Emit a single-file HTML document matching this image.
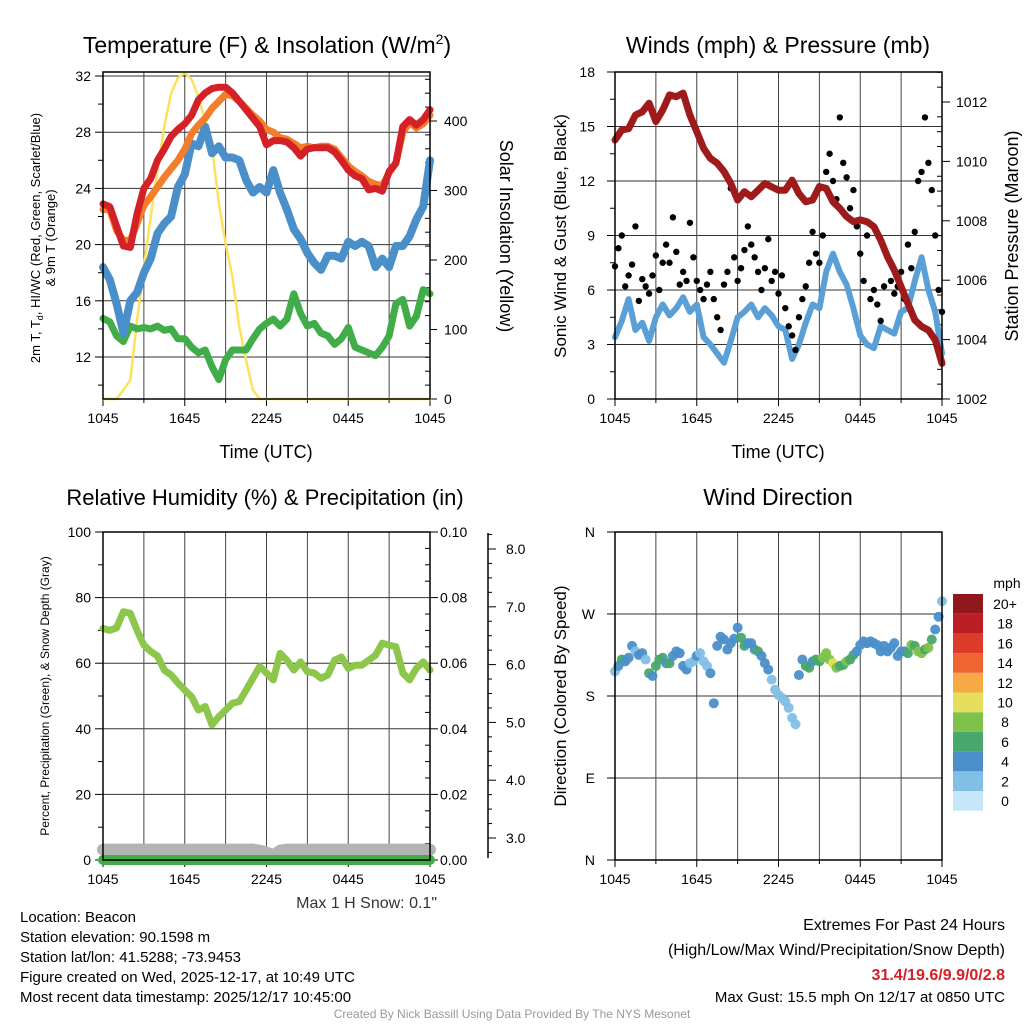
<!DOCTYPE html>
<html><head><meta charset="utf-8">
<style>
html,body{margin:0;padding:0;background:#fff;}
svg{display:block;font-family:"Liberation Sans",Arial,sans-serif;}
</style></head>
<body>
<svg id="c" width="1024" height="1024" viewBox="0 0 1024 1024" xmlns="http://www.w3.org/2000/svg">
<g id="p1"></g>
<g id="p2"></g>
<g id="p3"></g>
<g id="p4"></g>
<g id="txt" font-size="15" fill="#000">
<text x="20" y="922">Location: Beacon</text>
<text x="20" y="942">Station elevation: 90.1598 m</text>
<text x="20" y="962">Station lat/lon: 41.5288; -73.9453</text>
<text x="20" y="982">Figure created on Wed, 2025-12-17, at 10:49 UTC</text>
<text x="20" y="1002">Most recent data timestamp: 2025/12/17 10:45:00</text>
<text x="437" y="908" text-anchor="end" fill="#333" font-size="16">Max 1 H Snow: 0.1"</text>
<text x="1005" y="930" text-anchor="end" font-size="16">Extremes For Past 24 Hours</text>
<text x="1005" y="955" text-anchor="end" font-size="16">(High/Low/Max Wind/Precipitation/Snow Depth)</text>
<text x="1005" y="980" text-anchor="end" font-size="16" font-weight="bold" fill="#d42027">31.4/19.6/9.9/0/2.8</text>
<text x="1005" y="1002" text-anchor="end" font-size="15">Max Gust: 15.5 mph On 12/17 at 0850 UTC</text>
<text x="512" y="1018" text-anchor="middle" font-size="12" fill="#999">Created By Nick Bassill Using Data Provided By The NYS Mesonet</text>
</g>
</svg>
<script>
// ---------- data (half-hourly, 0..24 h from 1045 UTC) ----------
const hourLabels=["1045","1645","2245","0445","1045"];
const tempTicks=[12,16,20,24,28,32];
const insolTicks=[0,100,200,300,400];
const windTicks=[0,3,6,9,12,15,18];
const presTicks=[1002,1004,1006,1008,1010,1012];
const rhTicks=[0,20,40,60,80,100];
const precipTicks=["0.00","0.02","0.04","0.06","0.08","0.10"];
const snowTicks=[3.0,4.0,5.0,6.0,7.0,8.0];
const dirTicks=["N","E","S","W","N"];
const t2m=[22.9,22.7,21.3,19.9,19.8,22.2,24.0,24.7,26.0,26.8,27.7,28.2,28.6,29.2,30.3,30.8,31.1,31.2,31.2,30.8,30.2,29.6,29.0,28.4,27.1,27.4,27.4,27.3,26.9,26.3,26.8,26.9,26.9,26.9,26.6,26.0,25.3,24.9,24.7,23.9,24.0,23.8,25.2,25.8,28.4,28.9,28.5,28.9,29.6];
const t9m=[22.5,22.5,21.0,20.3,20.3,21.5,22.8,23.4,24.1,24.8,25.4,26.0,26.8,27.9,28.5,29.0,29.7,30.2,30.7,30.6,30.2,29.7,29.2,28.8,28.2,28.0,27.6,27.5,27.2,26.9,27.0,26.9,27.0,27.0,26.8,26.2,25.6,25.2,24.9,24.5,24.3,24.2,25.1,25.8,28.0,28.7,28.3,28.6,29.2];
const hiwc=[18.4,17.5,15.8,13.7,16.0,16.6,18.0,19.0,20.8,21.5,22.0,24.1,25.0,27.2,27.0,28.4,26.5,27.0,26.2,26.2,26.0,24.6,23.7,24.1,23.7,25.3,23.7,22.5,21.1,20.4,19.4,18.7,18.2,19.2,19.2,19.0,20.2,19.9,20.2,19.9,18.4,19.0,18.4,19.9,19.9,20.6,21.8,22.7,26.0];
const dewpt=[14.75,14.5,13.5,13.1,14.2,14.0,14.1,14.0,14.2,13.9,14.0,13.3,13.3,12.7,12.3,12.5,11.3,10.4,11.8,12.5,12.5,12.5,13.3,14.0,14.4,14.7,14.2,14.7,16.5,15.1,14.2,14.4,13.7,13.5,12.9,13.3,14.1,12.7,12.5,12.3,12.1,12.7,13.5,15.8,16.1,14.2,14.9,16.8,16.5];
const insol=[0,0,0,13,27,114,190,262,330,392,440,462,469,460,435,401,363,282,224,176,104,56,13,0,0,0,0,0,0,0,0,0,0,0,0,0,0,0,0,0,0,0,0,0,0,0,0,0,0];
const pres=[1010.72,1011.06,1011.1,1011.56,1011.67,1011.96,1011.34,1011.73,1012.24,1012.18,1012.3,1011.56,1011.0,1010.44,1010.1,1009.94,1009.66,1009.26,1008.7,1008.98,1008.81,1009.03,1009.26,1009.14,1009.03,1009.03,1009.37,1008.92,1008.64,1008.7,1009.15,1009.09,1008.64,1008.42,1008.14,1007.97,1008.03,1007.97,1007.8,1007.35,1006.79,1006.34,1005.78,1005.22,1004.66,1004.44,1004.32,1003.99,1003.2];
const wind=[3.4,4.3,5.5,3.8,4.2,3.2,4.5,5.2,4.6,5.0,5.6,4.8,5.2,3.4,3.0,2.5,2.0,3.2,4.5,4.8,5.2,4.5,5.0,4.6,4.0,3.8,2.2,3.0,4.2,5.2,5.0,7.0,8.0,7.0,6.3,5.0,3.5,3.0,2.8,4.0,3.8,3.6,4.8,5.0,6.5,7.8,6.0,4.8,2.5];
const rh=[70.6,70.0,70.8,75.7,75.2,70.0,65.5,63.6,62.2,57.9,56.4,54.0,51.8,49.8,45.7,46.8,41.2,43.7,45.7,47.8,48.3,51.8,55.4,59.0,57.0,54.9,63.0,60.9,57.9,60.4,57.4,57.0,55.4,56.4,60.9,61.9,58.4,59.4,59.4,60.9,62.4,66.1,65.5,65.0,57.0,54.9,58.4,60.4,57.9];
const precip=[0,0,0,0,0,0,0,0,0,0,0,0,0,0,0,0,0,0,0,0,0,0,0,0,0,0,0,0,0,0,0,0,0,0,0,0,0,0,0,0,0,0,0,0,0,0,0,0,0];
const snow=[2.8,2.8,2.8,2.8,2.8,2.8,2.8,2.8,2.8,2.8,2.8,2.8,2.8,2.8,2.8,2.8,2.8,2.8,2.8,2.8,2.8,2.8,2.8,2.78,2.75,2.7,2.78,2.8,2.8,2.8,2.8,2.8,2.8,2.8,2.8,2.8,2.8,2.8,2.8,2.8,2.8,2.8,2.8,2.8,2.8,2.8,2.8,2.8,2.8];
// quarter-hourly
const gust=[7.3,8.3,9.0,6.2,6.8,7.4,9.5,5.4,6.6,6.2,5.8,6.8,7.9,6.0,7.5,8.5,7.5,10.0,8.1,6.3,7.0,6.5,9.7,7.8,6.5,6.0,5.5,6.3,7.0,5.5,4.5,3.8,6.3,7.0,11.6,7.8,6.5,7.2,8.2,9.5,8.5,7.8,7.0,6.0,7.2,8.8,6.5,7.0,5.8,6.8,5.0,4.0,3.5,2.7,4.5,5.5,6.2,7.5,9.2,8.0,7.5,9.0,12.5,13.5,12.0,11.0,15.5,13.0,12.2,10.5,11.5,9.5,8.0,6.5,9.0,5.5,6.0,5.2,4.3,6.2,7.8,6.5,5.8,6.2,7.0,5.5,8.5,7.2,9.2,12.0,12.5,15.5,13.0,11.5,9.0,6.0,4.8];
const wdir=[207,213,220,218,222,235,229,225,227,220,205,202,213,220,222,216,216,224,229,227,213,209,216,218,224,227,218,213,205,172,235,245,242,231,238,243,255,244,235,238,238,231,229,224,216,209,198,187,181,178,174,167,156,149,203,220,213,211,218,220,218,222,227,220,216,211,213,214,218,220,225,229,236,240,238,240,238,236,229,235,229,233,238,224,229,229,227,236,235,229,227,231,233,242,253,267,284];
const wspd=[3.5,4.5,6.5,4.5,4.5,4.5,3.5,4.5,4.5,3.5,6.5,4.5,6.5,6.5,6.5,4.5,6.5,4.5,4.5,4.5,4.5,4.5,3.5,3.5,4.5,3.5,3.5,3.5,4.5,4.5,4.5,4.5,4.5,4.5,4.5,4.5,4.5,6.5,6.5,4.5,4.5,4.5,6.5,4.5,4.5,4.5,3.5,3.5,3.5,3.5,3.5,3.5,3.5,3.5,4.5,4.5,6.5,6.5,4.5,6.5,6.5,8.5,8.5,8.5,10.5,8.5,6.5,6.5,8.5,6.5,6.5,4.5,4.5,4.5,4.5,4.5,4.5,4.5,4.5,4.5,4.5,4.5,4.5,4.5,4.5,4.5,6.5,8.5,6.5,8.5,8.5,6.5,8.5,6.5,4.5,4.5,3.5];
const cbLabels=["0","2","4","6","8","10","12","14","16","18","20+"];
const cbColors=["#c6e6fa","#82bfe7","#4a8fc9","#48a86c","#7fc24a","#e5de5c","#f6a945","#ef6532","#dd3b2b","#bb1e24","#8f181c"];
// ---------- helpers ----------
const NS="http://www.w3.org/2000/svg";
function mk(parent,tag,attrs,text){const e=document.createElementNS(NS,tag);for(const k in attrs)e.setAttribute(k,attrs[k]);if(text!==undefined)e.textContent=text;parent.appendChild(e);return e;}
function xs(L,R){return h=>L+(R-L)*h/24;}
function lin(v0,v1,p0,p1){return v=>p0+(v-v0)*(p1-p0)/(v1-v0);}
function series(g,arr,step,X,Y,color,w,name){
  const d=arr.map((v,i)=>(i?"L":"M")+X(i*step).toFixed(1)+","+Y(v).toFixed(1)).join("");
  const p=mk(g,"path",{d:d,fill:"none",stroke:color,"stroke-width":w,"stroke-linejoin":"round","stroke-linecap":"round"});
  
  
  return p;
}
function frame(g,L,T,R,B){
  const f=mk(g,"rect",{x:L,y:T,width:R-L,height:B-T,fill:"none",stroke:"#000","stroke-width":1.5});
  
  
}
function vgrid(g,L,R,T,B){
  const X=xs(L,R);
  for(let h=3;h<24;h+=3){
    const l=mk(g,"line",{x1:X(h),x2:X(h),y1:T,y2:B,stroke:"#444","stroke-width":1});
    
    
  }
  for(let h=0;h<=24;h+=3){
    const t=mk(g,"line",{x1:X(h),x2:X(h),y1:B,y2:B+(h%6==0?7:4),stroke:"#000","stroke-width":1});
    
    
  }
  hourLabels.forEach((s,i)=>{
    const t=mk(g,"text",{x:X(i*6),y:B+24,"text-anchor":"middle","font-size":14},s);
    
    
  });
}
function hline(g,L,R,y,name){const l=mk(g,"line",{x1:L,x2:R,y1:y,y2:y,stroke:"#333","stroke-width":1});}
function tick(g,x1,x2,y){const l=mk(g,"line",{x1:x1,x2:x2,y1:y,y2:y,stroke:"#000","stroke-width":1});}
function label(g,x,y,s,anchor,size,name,rot,fill){
  const a={x:x,y:y,"text-anchor":anchor,"font-size":size};
  if(rot!==undefined)a.transform="rotate("+rot+" "+x+" "+y+")";
  if(fill)a.fill=fill;
  const t=mk(g,"text",a,s);
  
  
  return t;
}
// ---------- panel 1 ----------
(function(){
  const g=document.getElementById("p1"),L=103,R=430,T=72,B=399;
  const X=xs(L,R),Y=lin(12,32,357,76),Yi=lin(0,400,399,121);
  for(let v=10;v<=32;v+=2){const y=Y(v);if(y<T||y>B)continue;tick(g,L-(v%4==0?8:5),L,y);}
  tempTicks.forEach(v=>{hline(g,L,R,Y(v),"temp-gridline");label(g,L-12,Y(v)+5,String(v),"end",14,"temp-tick-label");});
  for(let v=0;v<=460;v+=20){const y=Yi(v);if(y<T)continue;tick(g,R-(v%100==0?0:5),R+(v%100==0?7:0),y);}
  insolTicks.forEach(v=>label(g,R+14,Yi(v)+5,String(v),"start",14,"insolation-tick-label"));
  vgrid(g,L,R,T,B);
  series(g,insol,0.5,X,Yi,"#fde15c",2.5,"insolation-line");
  series(g,dewpt,0.5,X,Y,"#41ad49",7,"dewpoint-line");
  series(g,hiwc,0.5,X,Y,"#4a8fc9",8,"hi-wc-line");
  series(g,t9m,0.5,X,Y,"#f47d2b",7,"temp-9m-line");
  series(g,t2m,0.5,X,Y,"#d42027",7,"temp-2m-line");
  frame(g,L,T,R,B);
  const tt=label(g,267,53,"Temperature (F) & Insolation (W/m","middle",23,"temperature-title");
  mk(tt,"tspan",{dy:-9,"font-size":14},"2");mk(tt,"tspan",{dy:9},")");
  label(g,266,458,"Time (UTC)","middle",18,"temp-x-axis-title");
  label(g,500,236,"Solar Insolation (Yellow)","middle",18,"insolation-axis-title",90);
  const yl=label(g,40,238,"2m T, T","middle",13,"temp-y-axis-title",-90);
  mk(yl,"tspan",{dy:3,"font-size":9},"d");mk(yl,"tspan",{dy:-3},", HI/WC (Red, Green, Scarlet/Blue)");
  label(g,55,238,"& 9m T (Orange)","middle",13,"temp-y-axis-title-2",-90);
})();
// ---------- panel 2 ----------
(function(){
  const g=document.getElementById("p2"),L=615,R=942,T=72,B=399;
  const X=xs(L,R),Y=lin(0,18,399,72),Yp=lin(1002,1012,399,102);
  windTicks.forEach(v=>{if(v>0&&v<18)hline(g,L,R,Y(v),"wind-gridline");tick(g,L-8,L,Y(v));label(g,L-20,Y(v)+5,String(v),"end",14,"wind-tick-label");});
  for(let v=1.5;v<18;v+=3)tick(g,L-5,L,Y(v));
  for(let v=1002;v<=1013;v+=0.5){const y=Yp(v);if(y<T)continue;const maj=(v%2==0);tick(g,R-(maj?0:5),R+(maj?8:0),y);}
  presTicks.forEach(v=>label(g,R+14,Yp(v)+5,String(v),"start",14,"pressure-tick-label"));
  vgrid(g,L,R,T,B);
  series(g,wind,0.5,X,Y,"#5a9fd6",6,"sonic-wind-line");
  gust.forEach((v,i)=>{const c=mk(g,"circle",{cx:X(i*0.25),cy:Y(v),r:3.2,fill:"#000"});});
  series(g,pres,0.5,X,Yp,"#9f1a1b",7,"pressure-line");
  frame(g,L,T,R,B);
  label(g,778,53,"Winds (mph) & Pressure (mb)","middle",23,"winds-title");
  label(g,778,458,"Time (UTC)","middle",18,"winds-x-axis-title");
  label(g,566,236,"Sonic Wind & Gust (Blue, Black)","middle",17,"wind-y-axis-title",-90);
  label(g,1018,236,"Station Pressure (Maroon)","middle",18,"pressure-axis-title",-90);
})();
// ---------- panel 3 ----------
(function(){
  const g=document.getElementById("p3"),L=103,R=430,T=532,B=860;
  const X=xs(L,R),Y=lin(0,100,860,532),Ys=lin(3,8,838,549);
  rhTicks.forEach(v=>{if(v>0&&v<100)hline(g,L,R,Y(v),"rh-gridline");tick(g,L-8,L,Y(v));label(g,L-12,Y(v)+5,String(v),"end",14,"rh-tick-label");});
  for(let v=10;v<100;v+=20)tick(g,L-5,L,Y(v));
  for(let v=0;v<=100;v+=5){const maj=v%20==0;tick(g,R-(maj?0:5),R+(maj?8:0),Y(v));}
  precipTicks.forEach((s,i)=>label(g,R+10,Y(i*20)+5,s,"start",14,"precip-tick-label"));
  const sa=mk(g,"line",{x1:488,x2:488,y1:533,y2:858,stroke:"#000","stroke-width":1.5});
  for(let v=2.75;v<=8.25;v+=0.25){const y=Ys(v);if(y<533||y>858)continue;const maj=Math.abs(v-Math.round(v))<0.01;tick(g,488,488+(maj?8:4),y);}
  snowTicks.forEach(v=>label(g,506,Ys(v)+5,v.toFixed(1),"start",14,"snow-tick-label"));
  vgrid(g,L,R,T,B);
  series(g,rh,0.5,X,Y,"#8cc64a",7,"rh-line");
  series(g,snow,0.5,X,Ys,"#b3b3b3",12,"snow-depth-line");
  series(g,precip,0.5,X,v=>Y(v*1000),"#41ad49",10,"precip-line");
  frame(g,L,T,R,B);
  label(g,265,505,"Relative Humidity (%) & Precipitation (in)","middle",22,"humidity-title");
  label(g,49,696,"Percent, Precipitation (Green), & Snow Depth (Gray)","middle",12,"rh-y-axis-title",-90);
})();
// ---------- panel 4 ----------
(function(){
  const g=document.getElementById("p4"),L=615,R=942,T=532,B=860;
  const X=xs(L,R),Y=lin(0,360,860,532);
  dirTicks.forEach((s,i)=>{const y=Y(i*90);if(i>0&&i<4)hline(g,L,R,y,"direction-gridline");tick(g,L-8,L,y);label(g,L-20,y+5,s,"end",14,"direction-tick-label");});
  vgrid(g,L,R,T,B);
  wdir.forEach((d,i)=>{const k=Math.min(10,Math.floor(wspd[i]/2));const c=mk(g,"circle",{cx:X(i*0.25),cy:Y(d),r:5,fill:cbColors[k],"fill-opacity":0.95});});
  frame(g,L,T,R,B);
  label(g,778,505,"Wind Direction","middle",23,"wind-direction-title");
  label(g,566,696,"Direction (Colored By Speed)","middle",17,"direction-y-axis-title",-90);
  const cb=mk(g,"g",{});
  cbColors.forEach((c,i)=>{const y=594+(10-i)*19.7;const r=mk(cb,"rect",{x:953,y:y,width:30,height:19.7,fill:c});
    label(cb,1005,y+15,cbLabels[i],"middle",14,"colorbar-label");});
  label(cb,1007,588,"mph","middle",14,"colorbar-title");
})();
</script>
</body></html>
